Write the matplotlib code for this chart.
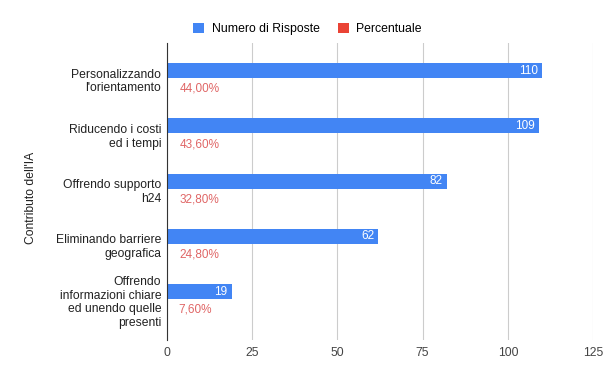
"""Bar chart: contributo dell'IA, risposte e percentuali."""
import matplotlib
matplotlib.use("Agg")
import matplotlib.pyplot as plt
import numpy as np

plt.rcParams["font.family"] = ["Liberation Sans", "DejaVu Sans"]

categories = [
    "Personalizzando\nl'orientamento",
    "Riducendo i costi\ned i tempi",
    "Offrendo supporto\nh24",
    "Eliminando barriere\ngeografica",
    "Offrendo\ninformazioni chiare\ned unendo quelle\npresenti",
]
risposte = [110, 109, 82, 62, 19]
percentuali = [0.44, 0.436, 0.328, 0.248, 0.076]
percent_labels = ["44,00%", "43,60%", "32,80%", "24,80%", "7,60%"]
xticks = [0, 25, 50, 75, 100, 125]

BLUE = "#4285f4"
RED = "#ea4335"

fig = plt.figure(figsize=(6.09, 3.89), dpi=100)
ax = fig.add_axes([0.274, 0.126, 0.7, 0.763])

y = np.arange(len(categories))
h = 0.27
off = 0.155
ax.barh(y - off, risposte, height=h, color=BLUE, label="Numero di Risposte", zorder=3)
ax.barh(y + off, percentuali, height=h, color=RED, label="Percentuale", zorder=3)

for yi, v in zip(y, risposte):
    ax.text(v - 1.2, yi - off, str(v), ha="right", va="center",
            color="white", fontsize=8.5, zorder=4)
for yi, v, lab in zip(y, percentuali, percent_labels):
    ax.text(v + 3.3, yi + off + 0.02, lab, ha="left", va="center",
            color="#e06666", fontsize=8.5, zorder=4)

ax.set_xlim(0, 125)
ax.set_ylim(4.72, -0.65)
ax.set_xticks(xticks)
ax.set_yticks(y)
ax.set_yticklabels(categories, fontsize=8.7, color="#222222", linespacing=1.2)
ax.tick_params(axis="both", length=0, labelsize=8.7, colors="#444444")
ax.tick_params(axis="y", pad=4, colors="#222222")
ax.tick_params(axis="x", pad=5)
ax.grid(axis="x", color="#cccccc", linewidth=0.8, zorder=0)
for side in ("top", "right", "bottom"):
    ax.spines[side].set_visible(False)
ax.spines["left"].set_color("#333333")
ax.spines["left"].set_zorder(5)
ax.set_ylabel("Contributo dell'IA", fontsize=8.7, color="#222222")
ax.yaxis.set_label_coords(-0.305, 0.48)

fig.legend(loc="center", bbox_to_anchor=(0.505, 0.925), ncol=2,
           frameon=False, fontsize=8.8, handlelength=0.9, handleheight=0.9,
           columnspacing=1.5, handletextpad=0.6)

fig.savefig("out.png", dpi=100)
plt.close(fig)
